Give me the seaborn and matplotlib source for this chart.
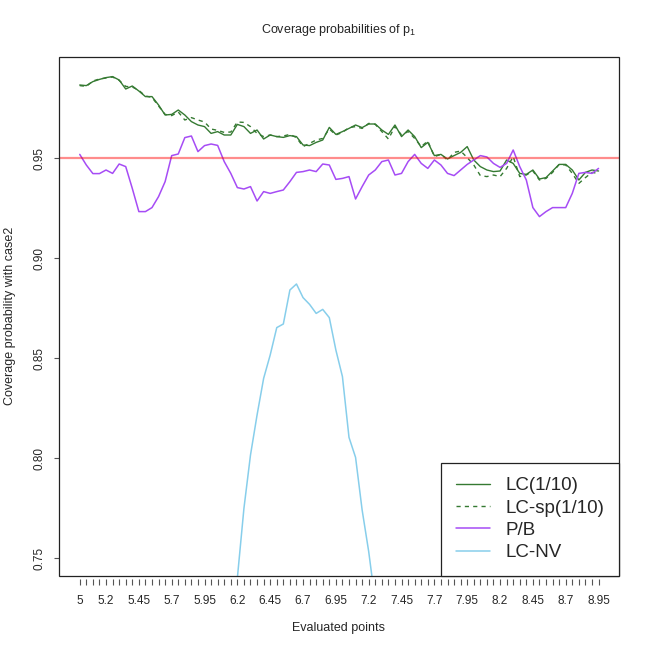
import numpy as np
import pandas as pd
import seaborn as sns
import matplotlib.pyplot as plt
from matplotlib.patches import Rectangle

# evaluated points 5, 5.05, ..., 8.95
x_points = np.round(np.arange(5, 8.951, 0.05), 2)

lc = [0.9865, 0.9862, 0.9882, 0.9893, 0.9902, 0.9907, 0.9890, 0.9845, 0.9860, 0.9835,
      0.9807, 0.9807, 0.9765, 0.9715, 0.9718, 0.9740, 0.9715, 0.9682, 0.9665, 0.9657,
      0.9623, 0.9632, 0.9615, 0.9615, 0.9668, 0.9657, 0.9623, 0.9640, 0.9595, 0.9615,
      0.9607, 0.9603, 0.9612, 0.9607, 0.9565, 0.9562, 0.9578, 0.9590, 0.9653, 0.9618,
      0.9632, 0.9648, 0.9665, 0.9652, 0.9670, 0.9670, 0.9640, 0.9618, 0.9665, 0.9607,
      0.9640, 0.9607, 0.9552, 0.9578, 0.9512, 0.9518, 0.9495, 0.9512, 0.9528, 0.9557,
      0.9490, 0.9457, 0.9440, 0.9432, 0.9435, 0.9490, 0.9473, 0.9423, 0.9418, 0.9440,
      0.9395, 0.9402, 0.9435, 0.9468, 0.9468, 0.9440, 0.9390, 0.9428, 0.9440, 0.9435]

lc_sp = [0.9862, 0.9858, 0.9885, 0.9895, 0.9900, 0.9905, 0.9888, 0.9858, 0.9855, 0.9838,
         0.9810, 0.9803, 0.9760, 0.9718, 0.9712, 0.9730, 0.9690, 0.9702, 0.9690, 0.9680,
         0.9645, 0.9638, 0.9628, 0.9630, 0.9680, 0.9678, 0.9657, 0.9623, 0.9607, 0.9615,
         0.9607, 0.9610, 0.9618, 0.9602, 0.9557, 0.9573, 0.9590, 0.9598, 0.9645, 0.9615,
         0.9628, 0.9652, 0.9657, 0.9648, 0.9673, 0.9668, 0.9632, 0.9595, 0.9657, 0.9615,
         0.9632, 0.9598, 0.9557, 0.9585, 0.9507, 0.9518, 0.9490, 0.9528, 0.9535, 0.9502,
         0.9465, 0.9412, 0.9407, 0.9415, 0.9407, 0.9448, 0.9507, 0.9407, 0.9415, 0.9435,
         0.9390, 0.9398, 0.9428, 0.9468, 0.9465, 0.9423, 0.9373, 0.9402, 0.9428, 0.9423]

pb = [0.9518, 0.9465, 0.9422, 0.9422, 0.9440, 0.9423, 0.9470, 0.9457, 0.9348, 0.9232,
      0.9232, 0.9252, 0.9307, 0.9382, 0.9512, 0.9520, 0.9602, 0.9610, 0.9532, 0.9562,
      0.9570, 0.9563, 0.9482, 0.9423, 0.9352, 0.9345, 0.9357, 0.9285, 0.9332, 0.9323,
      0.9332, 0.9340, 0.9382, 0.9428, 0.9432, 0.9440, 0.9432, 0.9470, 0.9465, 0.9393,
      0.9398, 0.9407, 0.9295, 0.9357, 0.9415, 0.9440, 0.9482, 0.9490, 0.9415, 0.9423,
      0.9482, 0.9518, 0.9473, 0.9448, 0.9490, 0.9465, 0.9423, 0.9412, 0.9440, 0.9468,
      0.9490, 0.9512, 0.9505, 0.9473, 0.9453, 0.9473, 0.9540, 0.9457, 0.9390, 0.9252,
      0.9207, 0.9232, 0.9252, 0.9252, 0.9252, 0.9323, 0.9423, 0.9428, 0.9423, 0.9448]

# LC-NV only visible between 6.15 and 7.3 (rest is below the plot)
lcnv_x = x_points[23:47]
lcnv = [0.700, 0.740, 0.7748, 0.8015, 0.8215, 0.8398, 0.8515, 0.8652, 0.8670, 0.8840,
        0.8870, 0.8802, 0.8768, 0.8723, 0.8743, 0.8702, 0.8540, 0.8407, 0.8103, 0.8003,
        0.7740, 0.7532, 0.7280, 0.700]

xlab_shown = [5, 5.2, 5.45, 5.7, 5.95, 6.2, 6.45, 6.7, 6.95, 7.2, 7.45, 7.7, 7.95,
              8.2, 8.45, 8.7, 8.95]
yticks = [0.75, 0.80, 0.85, 0.90, 0.95]

sns.set_style('white')
plt.rcParams['font.family'] = ['Liberation Sans', 'DejaVu Sans']
plt.rcParams['mathtext.fontset'] = 'custom'
plt.rcParams['mathtext.rm'] = 'Liberation Sans'

green = '#357a32'
purple = '#a64cf5'
skyblue = '#87CEEB'

fig = plt.figure(figsize=(6.5, 6.5), dpi=100)
ax = fig.add_axes([59/650, 1-576/650, (619.3-59)/650, (576-57)/650])

sns.lineplot(x=x_points, y=lc, ax=ax, color=green, lw=1, label='LC(1/10)')
sns.lineplot(x=x_points, y=lc_sp, ax=ax, color=green, lw=1, linestyle=(0, (3, 3)),
             label='LC-sp(1/10)')
sns.lineplot(x=x_points, y=pb, ax=ax, color=purple, lw=1.1, label='P/B')
sns.lineplot(x=lcnv_x, y=lcnv, ax=ax, color=skyblue, lw=1.1, label='LC-NV')
ax.axhline(0.95, color=(1, 0, 0, 0.45), lw=1.6)

ax.set_xlim(4.842, 9.108)
ax.set_ylim(0.741, 1.0005)

ax.set_xticks(x_points)
ax.set_xticklabels([f'{v:g}' if any(abs(v - s) < 1e-6 for s in xlab_shown) else ''
                    for v in x_points])
ax.set_yticks(yticks)
ax.set_yticklabels([f'{v:.2f}' for v in yticks], rotation=90, va='center')

for s in ax.spines.values():
    s.set_visible(False)
ax.spines['bottom'].set_position(('outward', 2.2))
ax.add_patch(Rectangle((0, 0), 1, 1, transform=ax.transAxes, fill=False,
                       lw=0.9, edgecolor='#222222', clip_on=False, zorder=5))

ax.tick_params(axis='x', direction='out', length=4.3, width=0.8, color='#555555',
               pad=7, labelsize=8.5, bottom=True)
ax.tick_params(axis='y', direction='out', length=3.6, width=0.8, color='#555555',
               pad=6, labelsize=8.5, left=True)
ax.set_xlabel('')
ax.set_ylabel('')

leg = ax.legend(loc='lower right', bbox_to_anchor=(1, 0), borderaxespad=0,
                fancybox=False, framealpha=1, edgecolor='#222222', fontsize=13.5,
                handlelength=1.8, handletextpad=0.85, labelspacing=0.28, borderpad=0.78)
leg.get_frame().set_linewidth(0.9)
leg.set_zorder(6)

fig.text(339/650, 1-30/650, r'Coverage probabilities of $\mathrm{p}_1$', ha='center',
         va='center', fontsize=9)
fig.text(339/650, 1-628/650, 'Evaluated points', ha='center', va='center', fontsize=9)
fig.text(10/650, 1-316/650, 'Coverage probability with case2', ha='center',
         va='center', rotation=90, fontsize=9)

fig.savefig('out.png', dpi=100)
